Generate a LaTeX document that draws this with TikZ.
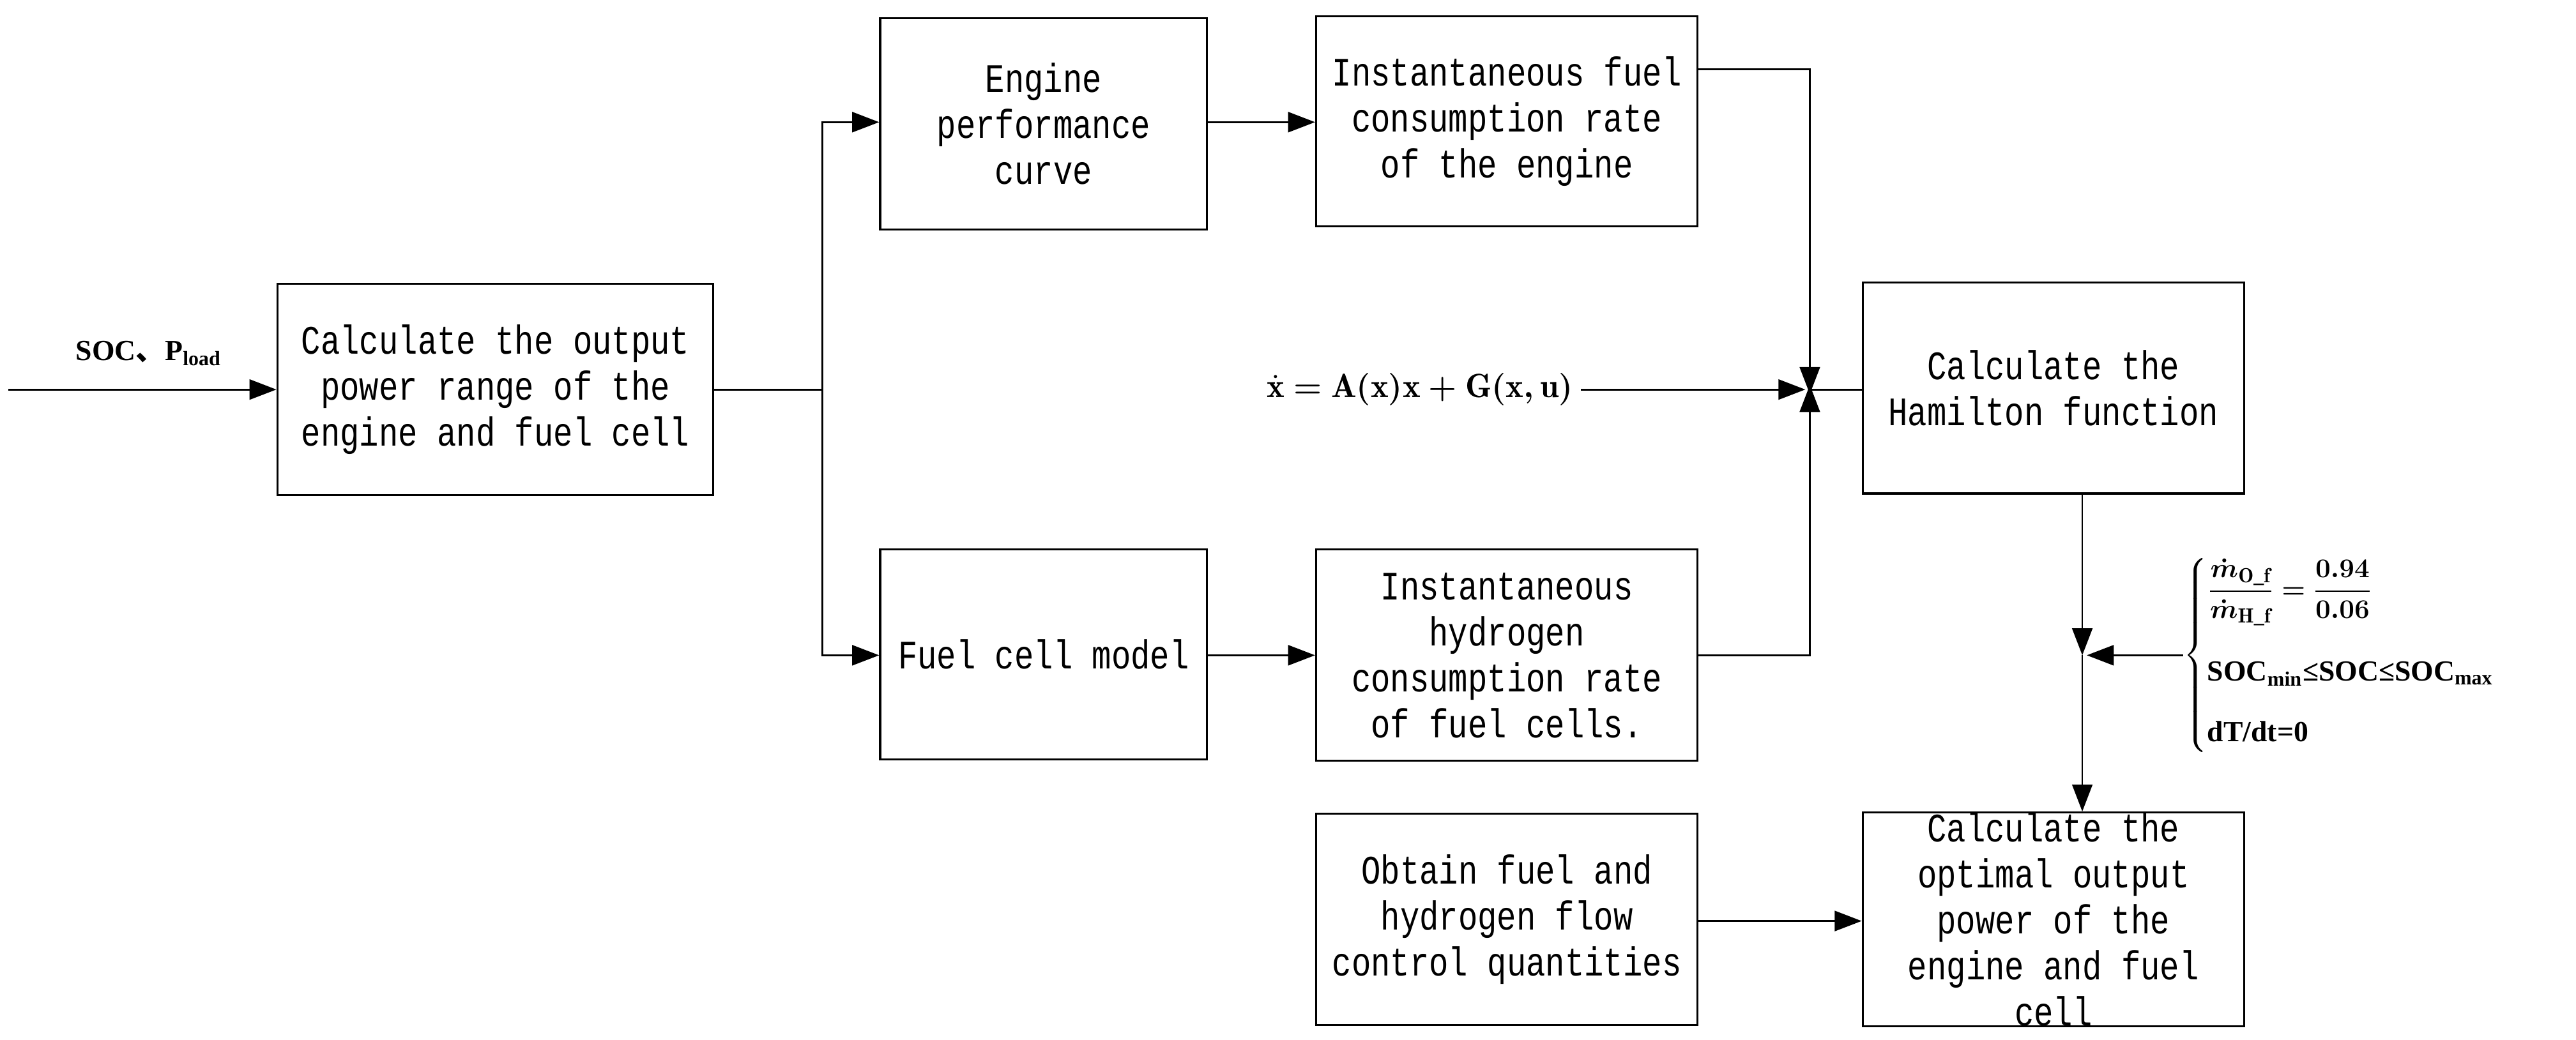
\documentclass[tikz,border=0pt]{standalone}
\usepackage{amsmath}
\usepackage{bm}
\usepackage{fontspec}
\usetikzlibrary{arrows.meta}
\newfontfamily\boxfont{Liberation Mono}[FakeStretch=0.8]
\newfontfamily\serifb{Liberation Serif}
\newfontfamily\cjkf{Noto Sans CJK SC}
\begin{document}
\begin{tikzpicture}[x=0.02585cm,y=-0.02585cm,
  bx/.style={draw,line width=0.9pt,inner sep=0pt,font=\boxfont\fontsize{18}{20.5}\selectfont,align=center},
  ar/.style={-{Triangle[length=12pt,width=9pt]},line width=0.8pt},
  ln/.style={line width=0.8pt}]
\useasboundingbox (0,0) rectangle (1560,630);
\newcommand\bxx[6]{\node[bx,minimum width={(#3-#2)*0.02585cm},minimum height={(#5-#4)*0.02585cm}] (#1) at ({(#2+#3)/2},{(#4+#5)/2}) {#6};}
\bxx{b1}{168}{432}{172}{300}{Calculate the output\\power range of the\\engine and fuel cell}
\bxx{b2}{533}{731}{11}{139}{Engine\\performance\\curve}
\bxx{b3}{797}{1028}{10}{137}{Instantaneous fuel\\consumption rate\\of the engine}
\bxx{b4}{533}{731}{333}{460}{Fuel cell model}
\bxx{b5}{797}{1028}{333}{461}{Instantaneous\\hydrogen\\consumption rate\\of fuel cells.}
\bxx{b6}{1128}{1359}{171}{299}{Calculate the\\Hamilton function}
\bxx{b7}{797}{1028}{493}{621}{Obtain fuel and\\hydrogen flow\\control quantities}
\bxx{b8}{1128}{1359}{493}{621}{Calculate the\\optimal output\\power of the\\engine and fuel\\cell}
\coordinate (in) at (5,236);
\coordinate (sp) at (498,236);
\coordinate (J) at (1096,236);
\coordinate (M) at (1261,397);
\node[font=\serifb\bfseries\fontsize{13}{15}\selectfont] (lab) at (90,214) {SOC{\cjkf 、}P\textsubscript{load}};
\draw[ar] (in) -- (b1.west|-in);
\draw[ln] (b1.east|-sp) -- (sp);
\draw[ar] (sp) |- (b2.west|-0,74);
\draw[ar] (sp) |- (b4.west|-0,397);
\draw[ar] (b2.east|-0,74) -- (b3.west|-0,74);
\draw[ar] (b4.east|-0,397) -- (b5.west|-0,397);
\node[font=\fontsize{15}{17}\selectfont] (eq) at (860,236) {$\bm{\dot{\mathrm{x}}=\mathrm{A(x)x+G(x,u)}}$};
\draw[ar] (eq.east) -- ([xshift=-2pt]J);
\draw[ar] (b3.east|-0,42) -| ([yshift=-2pt]J);
\draw[ar] (b5.east|-0,397) -| ([yshift=2pt]J);
\draw[ln] (J) -- (b6.west|-J);
\draw[ar] (b6.south-|M) -- (M);
\draw[ar] (M) -- (b8.north-|M);
\draw[ar] (b7.east|-0,558) -- (b8.west|-0,558);
\node[anchor=west,inner sep=0pt,font=\serifb\bfseries\fontsize{13}{15}\selectfont] (cons) at (1322,397)
 {$\left\{\begin{array}{@{}l@{}}
 \bm{\dfrac{\dot{m}_{\mathrm{O\_f}}}{\dot{m}_{\mathrm{H\_f}}}=\dfrac{0.94}{0.06}}\\[22pt]
 \text{\serifb\bfseries SOC\textsubscript{min}≤SOC≤SOC\textsubscript{max}}\\[12pt]
 \text{\serifb\bfseries dT/dt=0}
 \end{array}\right.$};
\draw[ar] (cons.west) -- ([xshift=2pt]M);
\end{tikzpicture}
\end{document}
